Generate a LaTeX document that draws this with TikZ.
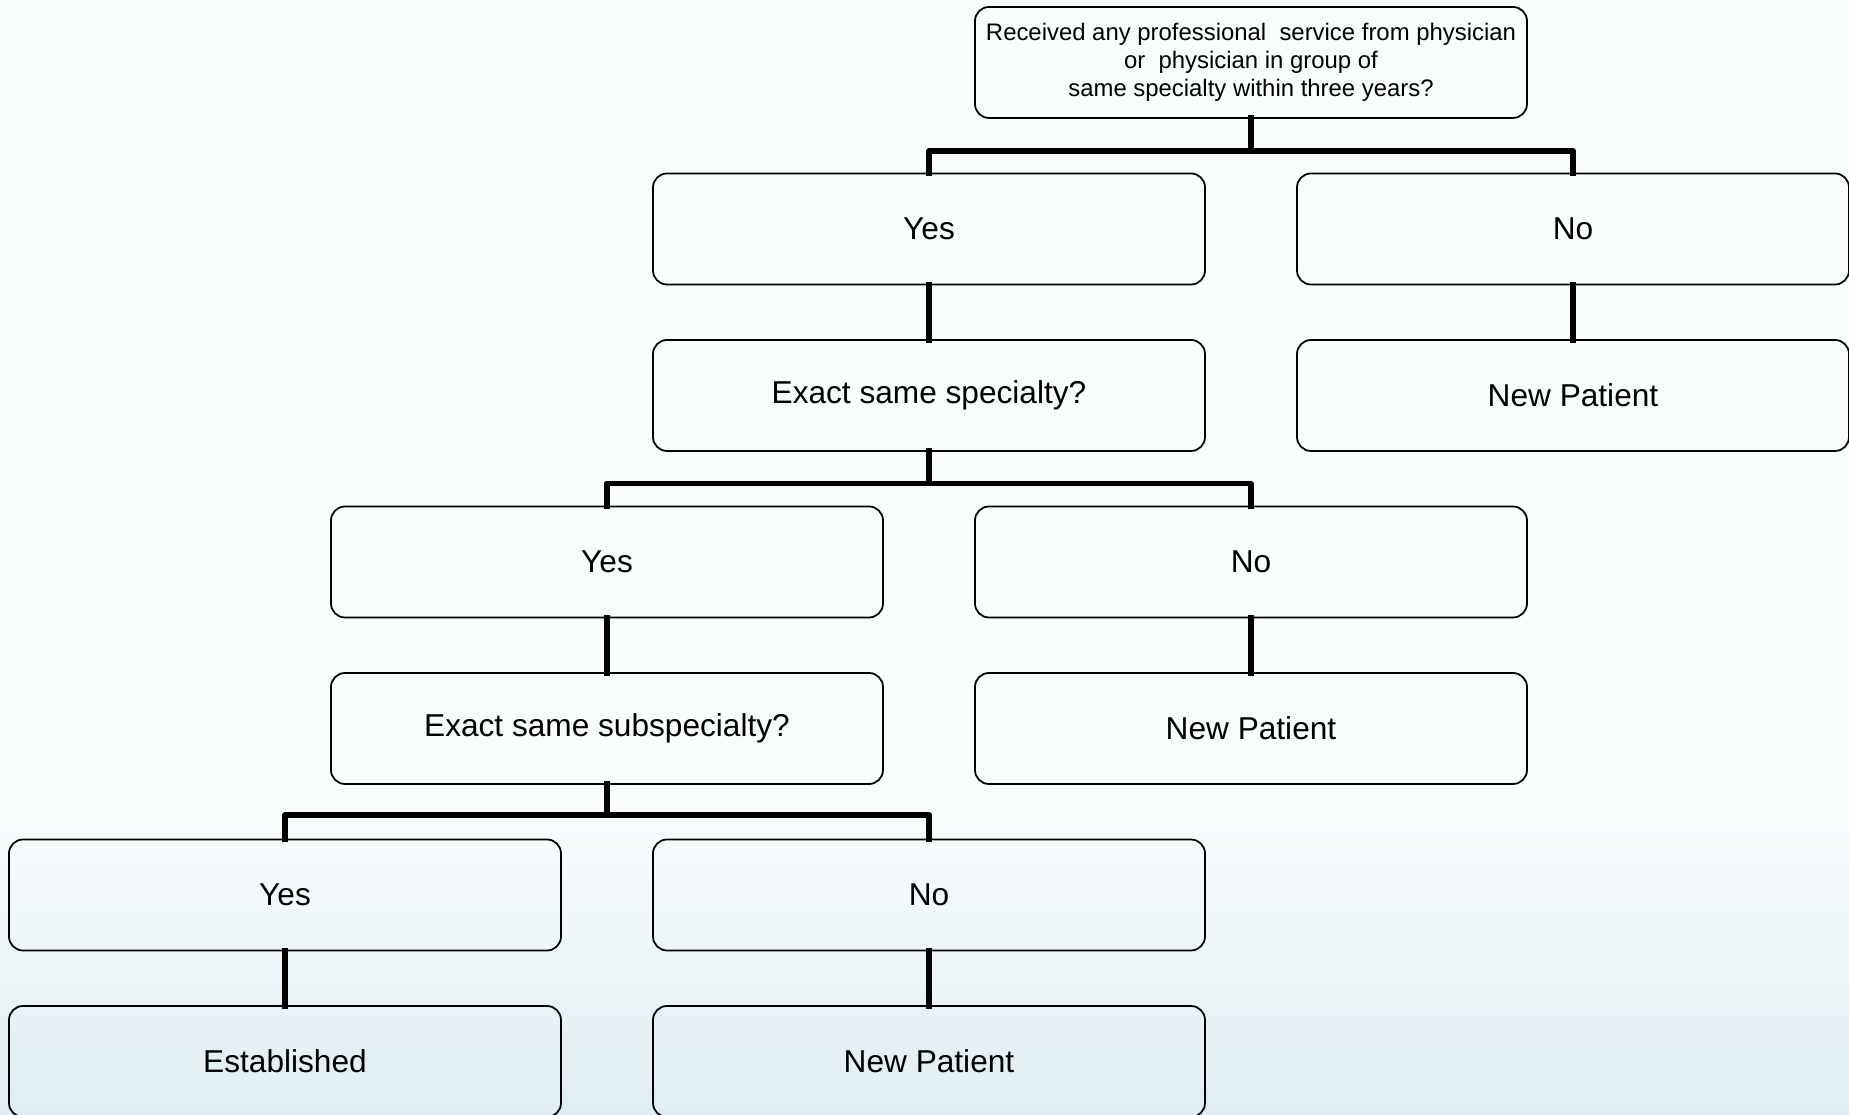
\documentclass[tikz,border=0pt]{standalone}
\usepackage{fontspec}
\setmainfont{Liberation Sans}
\usepackage{xcolor}
\usetikzlibrary{calc}

\definecolor{bgtop}{HTML}{F8FCFD}
\definecolor{bgbot}{HTML}{E0EDF2}

\begin{document}
\begin{tikzpicture}[line join=round,
    box/.style={draw=black,line width=0.5pt,rounded corners=0.14cm,
      minimum width=5.52cm,minimum height=1.11cm,inner sep=0pt,outer sep=0pt,
      align=center,font=\fontsize{9}{10.8}\selectfont},
    topbox/.style={box,font=\fontsize{6.8}{8.05}\selectfont},
    conn/.style={line width=1.6pt,line cap=rect}]
  \useasboundingbox (0,0) rectangle (18.49,-11.15);
  \fill[bgtop] (0,0) rectangle (18.49,-11.15);
  \shade[top color=bgtop,bottom color=bgbot] (0,-8.2) rectangle (18.49,-11.15);
  % question and answer boxes
  \node[topbox] (Q0) at (12.51,-0.625) {Received any professional\ \ service from physician\\or\ \ physician in group of\\same specialty within three years?};
  \node[box] (Y1) at (9.29,-2.290) {Yes};
  \node[box] (N1) at (15.73,-2.290) {No};
  \node[box] (Q1) at (9.29,-3.955) {Exact same specialty?};
  \node[box] (R1) at (15.73,-3.955) {New Patient};
  \node[box] (Y2) at (6.07,-5.620) {Yes};
  \node[box] (N2) at (12.51,-5.620) {No};
  \node[box] (Q2) at (6.07,-7.285) {Exact same subspecialty?};
  \node[box] (R2) at (12.51,-7.285) {New Patient};
  \node[box] (Y3) at (2.85,-8.950) {Yes};
  \node[box] (N3) at (9.29,-8.950) {No};
  \node[box] (R4) at (2.85,-10.615) {Established};
  \node[box] (R3) at (9.29,-10.615) {New Patient};
  % branch points
  \coordinate (J0) at (12.51,-1.510);
  \coordinate (J1) at (9.29,-4.835);
  \coordinate (J2) at (6.07,-8.150);
  % connectors
  \draw[conn] (Q0.south) -- (J0);
  \draw[conn] (J0) -| (Y1.north);
  \draw[conn] (J0) -| (N1.north);
  \draw[conn] (Y1.south) -- (Q1.north);
  \draw[conn] (N1.south) -- (R1.north);
  \draw[conn] (Q1.south) -- (J1);
  \draw[conn] (J1) -| (Y2.north);
  \draw[conn] (J1) -| (N2.north);
  \draw[conn] (Y2.south) -- (Q2.north);
  \draw[conn] (N2.south) -- (R2.north);
  \draw[conn] (Q2.south) -- (J2);
  \draw[conn] (J2) -| (Y3.north);
  \draw[conn] (J2) -| (N3.north);
  \draw[conn] (Y3.south) -- (R4.north);
  \draw[conn] (N3.south) -- (R3.north);
\end{tikzpicture}
\end{document}
